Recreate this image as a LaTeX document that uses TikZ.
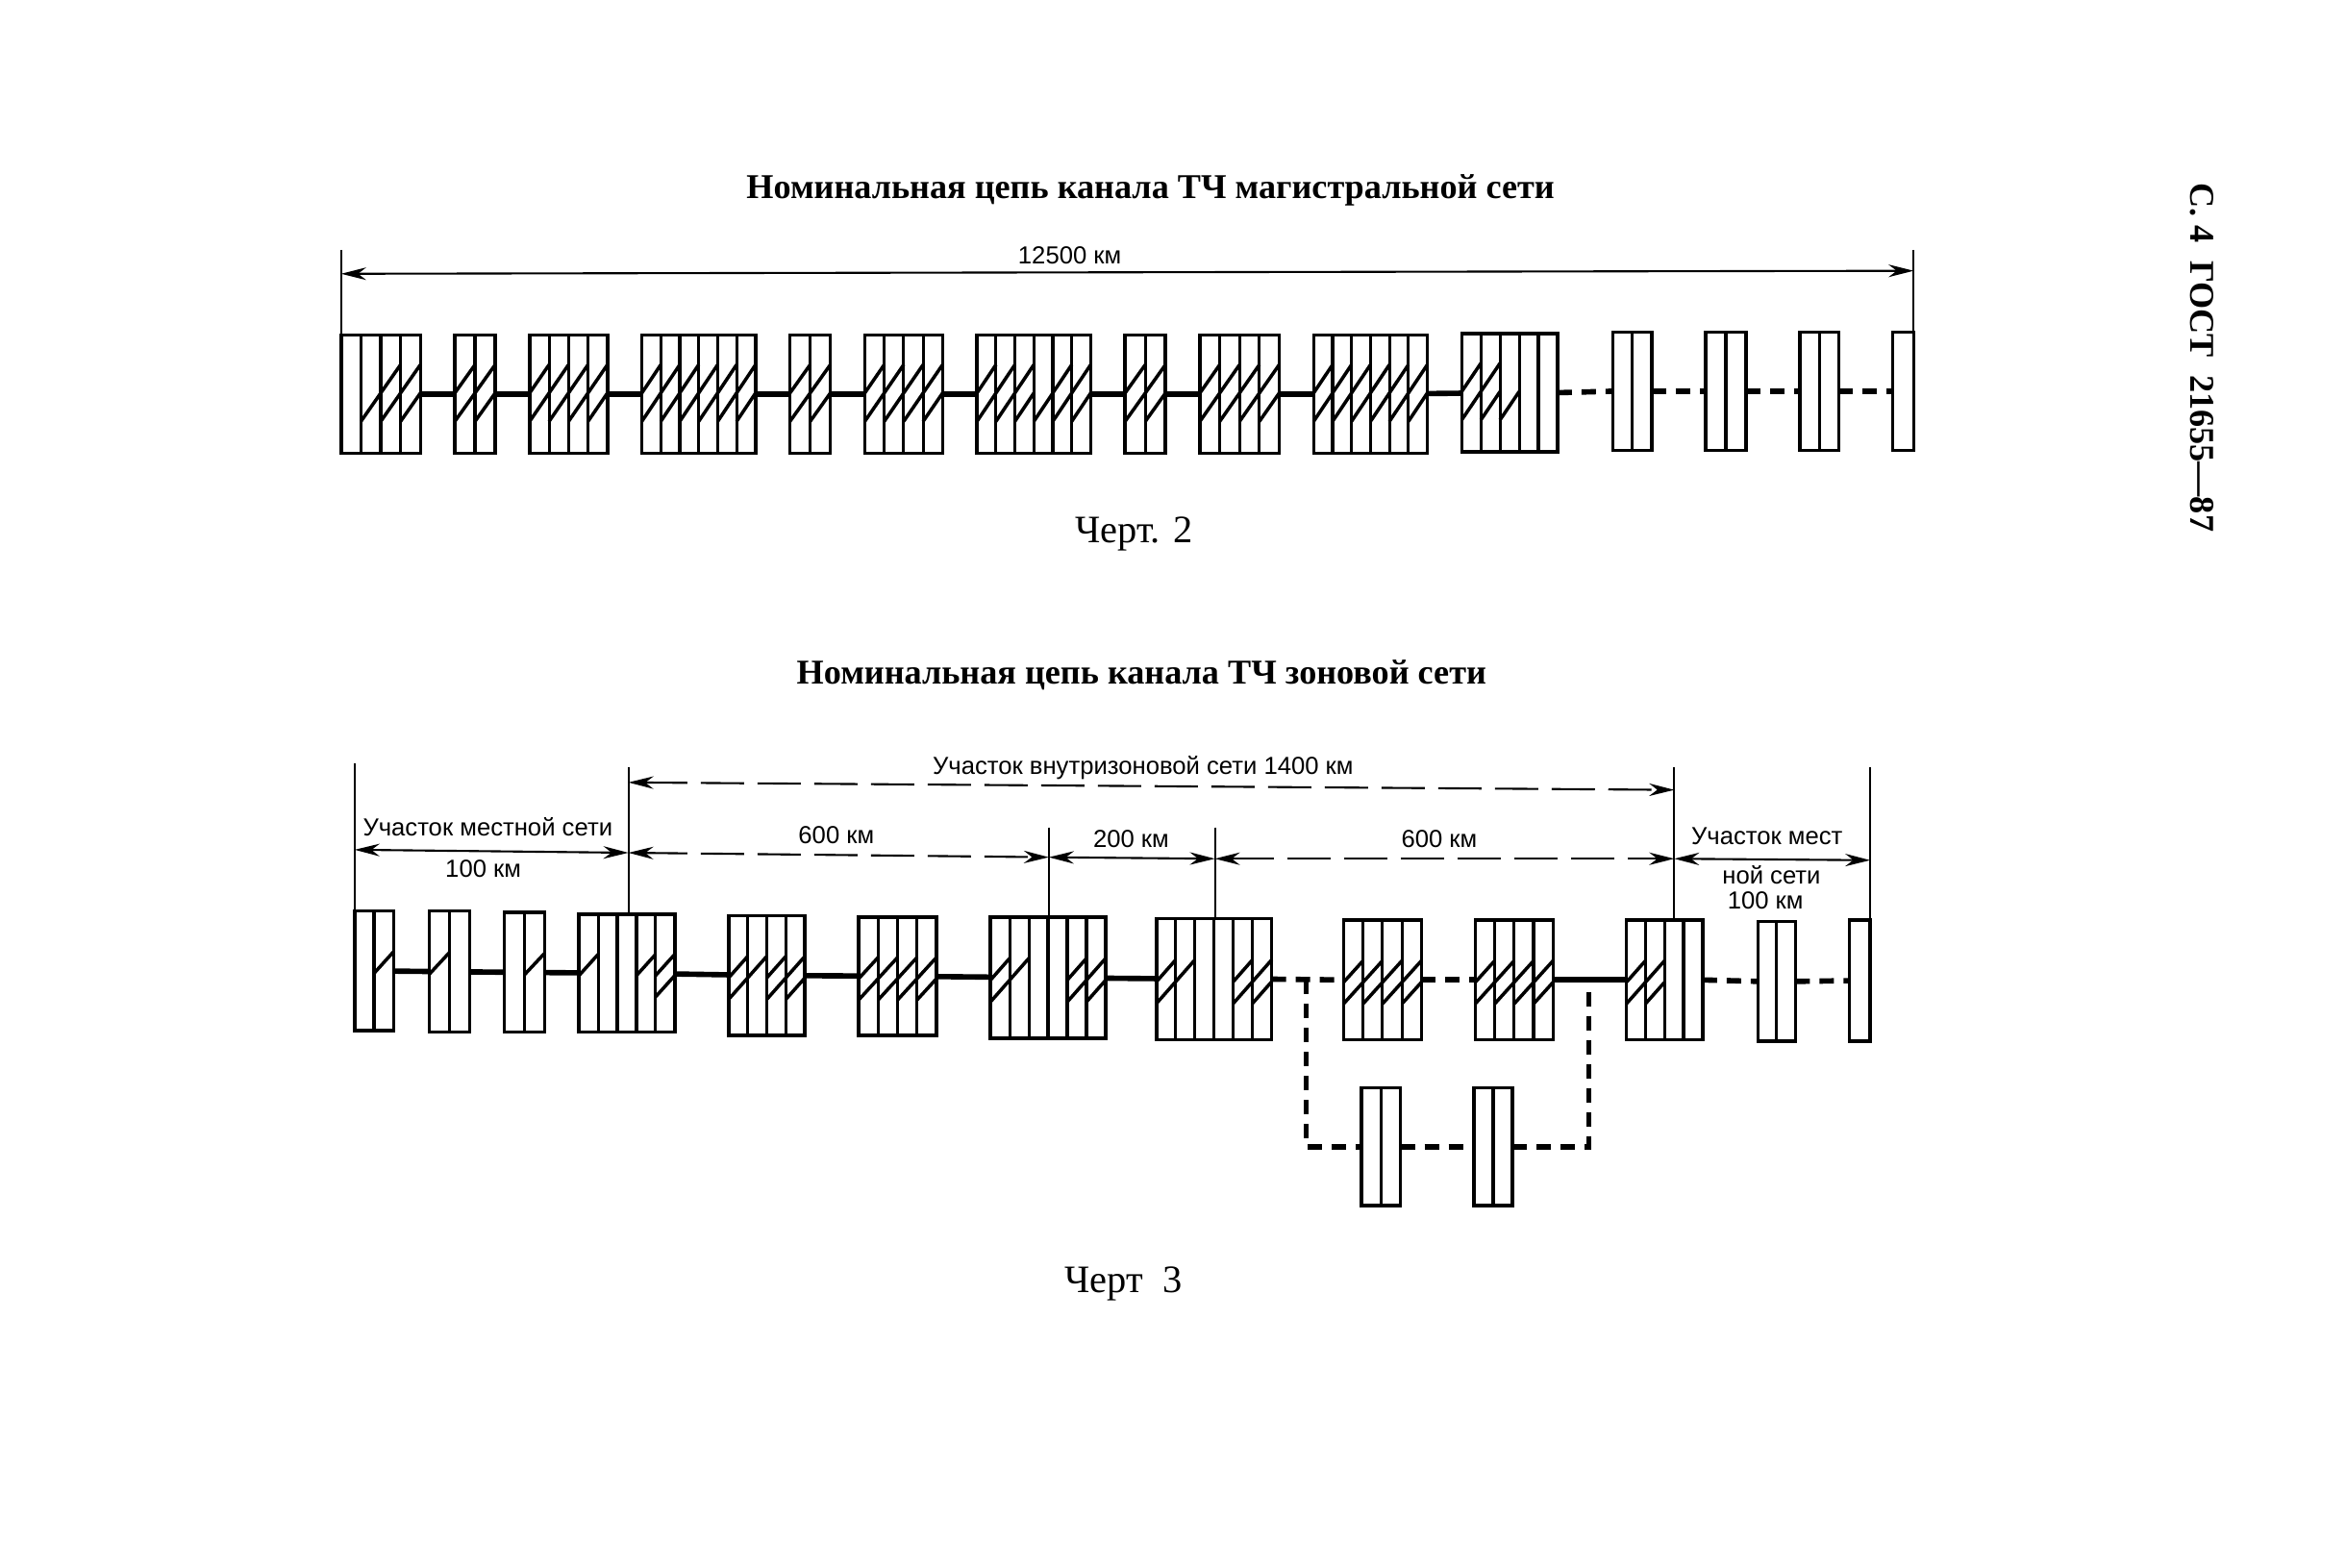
\documentclass[tikz,border=0pt]{standalone}
\usepackage{fontspec}
\setmainfont{Liberation Serif}
\setsansfont{Liberation Sans}
\usepackage{tikz}
\usetikzlibrary{arrows.meta,positioning,calc}

\newcommand{\px}{0.015561cm}
\newcommand{\fa}{.25}
\newcommand{\fb}{.49}
\newcommand{\fc}{.73}
% name, left, right, top, bottom, cells, upper strokes, lower strokes (0 = none)
\newcommand{\chanblock}[8]{%
  \node[chanbox,minimum width={(#3-#2)*\px},minimum height={(#5-#4)*\px}] (#1) at ({(#2+#3)/2},{(#4+#5)/2}) {};
  \pgfmathsetmacro{\cellw}{(#3-#2)/#6}
  \foreach \k in {0,...,#6} \draw[chanline] ({#2+\k*\cellw},#4) -- ({#2+\k*\cellw},#5);
  \foreach \k in {#7} {\ifnum\k>0 \draw[hatchline] ({#2+(\k-1)*\cellw},{#4+\fb*(#5-#4)}) -- ({#2+\k*\cellw},{#4+\fa*(#5-#4)});\fi}
  \foreach \k in {#8} {\ifnum\k>0 \draw[hatchline] ({#2+(\k-1)*\cellw},{#4+\fc*(#5-#4)}) -- ({#2+\k*\cellw},{#4+\fb*(#5-#4)});\fi}
}

\tikzset{
  chanbox/.style={draw,line width=1pt,inner sep=0pt,outer sep=0pt,fill=white},
  chanline/.style={line width=0.9pt},
  hatchline/.style={line width=1pt},
  link/.style={line width=1.6pt},
  dashlink/.style={line width=1.6pt,dash pattern=on 1.5mm off 1mm},
  ticklen/.style={line width=0.55pt},
  dimline/.style={line width=0.6pt,{Stealth[length=2.6mm,width=1.3mm]}-{Stealth[length=2.6mm,width=1.3mm]}},
  dimfaint/.style={dimline,dash pattern=on 4.5mm off 1.4mm},
  headtext/.style={font=\bfseries\fontsize{10.3}{13}\selectfont},
  capttext/.style={font=\fontsize{11.5}{14}\selectfont},
  dimtext/.style={font=\sffamily\fontsize{7.3}{9}\selectfont,inner sep=0pt},
}

\begin{document}
\begin{tikzpicture}[x=0.015561cm,y=-0.015561cm,>=Stealth]
 \useasboundingbox (0,0) rectangle (1568,1048);
 \fill[white] (0,0) rectangle (1568,1048);
 % --- headings ---
 \node[headtext] (head1) at (769,127) {Номинальная цепь канала ТЧ магистральной сети};
 \node[headtext] (head2) at (763,451) {Номинальная цепь канала ТЧ зоновой сети};
 \node[capttext] (capt1) at (758,357) {Черт. 2};
 \node[capttext] (capt2) at (751,858) {Черт\ \ 3};
 \node[headtext,rotate=-90] (pagehead) at (1472,239) {С. 4\ \ ГОСТ\ \ 21655—87};
 % --- trunk network ---
 \coordinate (aL) at (228,167);
 \coordinate (aR) at (1279,167);
 \coordinate (aDl) at (228,183);
 \coordinate (aDr) at (1279,181);
 \chanblock{a1}{228}{281}{224}{303}{4}{3,4}{2,3,4}
 \chanblock{a2}{304}{331}{224}{303}{2}{1,2}{1,2}
 \chanblock{a3}{354}{406}{224}{303}{4}{1,2,3,4}{1,2,3,4}
 \chanblock{a4}{429}{505}{224}{303}{6}{1,2,3,4,5,6}{1,2,3,4,5,6}
 \chanblock{a5}{528}{555}{224}{303}{2}{1,2}{1,2}
 \chanblock{a6}{578}{630}{224}{303}{4}{1,2,3,4}{1,2,3,4}
 \chanblock{a7}{653}{729}{224}{303}{6}{1,2,3,5,6}{1,2,3,4,5,6}
 \chanblock{a8}{752}{779}{224}{303}{2}{1,2}{1,2}
 \chanblock{a9}{802}{855}{224}{303}{4}{1,2,3,4}{1,2,3,4}
 \chanblock{a10}{878}{954}{224}{303}{6}{1,2,3,4,5,6}{1,2,3,4,5,6}
 \chanblock{a11}{977}{1041}{223}{302}{5}{1,2}{1,2,3}
 \chanblock{a12}{1078}{1104}{222}{301}{2}{0}{0}
 \chanblock{a13}{1140}{1167}{222}{301}{2}{0}{0}
 \chanblock{a14}{1203}{1229}{222}{301}{2}{0}{0}
 \chanblock{a15}{1265}{1279}{222}{301}{1}{0}{0}
 \foreach \i/\j in {a1/a2,a2/a3,a3/a4,a4/a5,a5/a6,a6/a7,a7/a8,a8/a9,a9/a10,a10/a11} \draw[link] (\i) -- (\j);
 \foreach \i/\j in {a11/a12,a12/a13,a13/a14,a14/a15} \draw[dashlink] (\i.east) -- (\j.west);
 \draw[ticklen] (aL) -- (a1.north west);
 \draw[ticklen] (aR) -- (a15.north east);
 \draw[dimline] (aDl) -- (aDr);
 \node[dimtext] (alen) at (715,171) {12500 км};
 % --- zone network ---
 \renewcommand{\fa}{.34}
 \renewcommand{\fb}{.52}
 \renewcommand{\fc}{.70}
 \chanblock{z1}{237}{263}{609}{689}{2}{2}{0}
 \chanblock{z2}{287}{314}{609}{690}{2}{1}{0}
 \chanblock{z3}{337}{364}{610}{690}{2}{2}{0}
 \chanblock{z4}{387}{451}{611}{690}{5}{1,4,5}{5}
 \chanblock{z5}{487}{538}{612}{692}{4}{1,2,3,4}{1,3,4}
 \chanblock{z6}{574}{626}{613}{692}{4}{1,2,3,4}{1,2,3,4}
 \chanblock{z7}{662}{739}{613}{694}{6}{1,2,5,6}{1,5,6}
 \chanblock{z8}{773}{850}{614}{695}{6}{1,2,5,6}{1,5,6}
 \chanblock{z9}{898}{950}{615}{695}{4}{1,2,3,4}{1,2,3,4}
 \chanblock{z10}{986}{1038}{615}{695}{4}{1,2,3,4}{1,2,3,4}
 \chanblock{z11}{1087}{1138}{615}{695}{4}{1,2}{1,2}
 \chanblock{z12}{1175}{1200}{616}{696}{2}{0}{0}
 \chanblock{z13}{1236}{1250}{615}{696}{1}{0}{0}
 \chanblock{s1}{910}{936}{727}{806}{2}{0}{0}
 \chanblock{s2}{985}{1011}{727}{806}{2}{0}{0}
 \foreach \i/\j in {z1/z2,z2/z3,z3/z4,z4/z5,z5/z6,z6/z7,z7/z8,z10/z11} \draw[link] (\i) -- (\j);
 \foreach \i/\j in {z8/z9,z9/z10,z11/z12,z12/z13} \draw[dashlink] (\i.east) -- (\j.west);
 % --- bypass ---
 \coordinate (br1) at (873,655);
 \coordinate (br2) at (1062,655);
 \draw[dashlink] (br1) |- (s1.west);
 \draw[dashlink] (s1.east) -- (s2.west);
 \draw[dashlink] (s2.east) -| (br2);
 % --- dimensions of the zone network ---
 \coordinate (t1) at (237,510);
 \coordinate (t2) at (420,513);
 \coordinate (t3) at (701,553);
 \coordinate (t4) at (812,553);
 \coordinate (t5) at (1119,513);
 \coordinate (t6) at (1250,513);
 \draw[ticklen] (t1) -- (z1.north west);
 \draw[ticklen] (t2) -- (t2 |- z4.north);
 \draw[ticklen] (t3) -- (t3 |- z7.north);
 \draw[ticklen] (t4) -- (t4 |- z8.north);
 \draw[ticklen] (t5) -- (t5 |- z11.north);
 \draw[ticklen] (t6) -- (z13.north east);
 \coordinate (d1) at (237,568);
 \coordinate (d2) at (420,570);
 \coordinate (d3) at (701,573);
 \coordinate (d4) at (812,574);
 \coordinate (d5) at (1119,574);
 \coordinate (d6) at (1250,575);
 \coordinate (e1) at (420,523);
 \coordinate (e2) at (1119,528);
 \draw[dimfaint] (e1) -- (e2);
 \draw[dimline] (d1) -- (d2);
 \draw[dimfaint] (d2) -- (d3);
 \draw[dimline] (d3) -- (d4);
 \draw[dimfaint] (d4) -- (d5);
 \draw[dimline] (d5) -- (d6);
 \node[dimtext] (zall) at (764,513) {Участок внутризоновой сети 1400 км};
 \node[dimtext] (zloc1) at (326,553) {Участок местной сети};
 \node[dimtext] (zkm1) at (323,581) {100 км};
 \node[dimtext] (zkm2) at (559,558) {600 км};
 \node[dimtext] (zkm3) at (756,561) {200 км};
 \node[dimtext] (zkm4) at (962,561) {600 км};
 \node[dimtext] (zloc2) at (1181,559) {Участок мест};
 \node[dimtext] (zloc3) at (1184,585) {ной сети};
 \node[dimtext] (zkm5) at (1180,602) {100 км};
\end{tikzpicture}
\end{document}
